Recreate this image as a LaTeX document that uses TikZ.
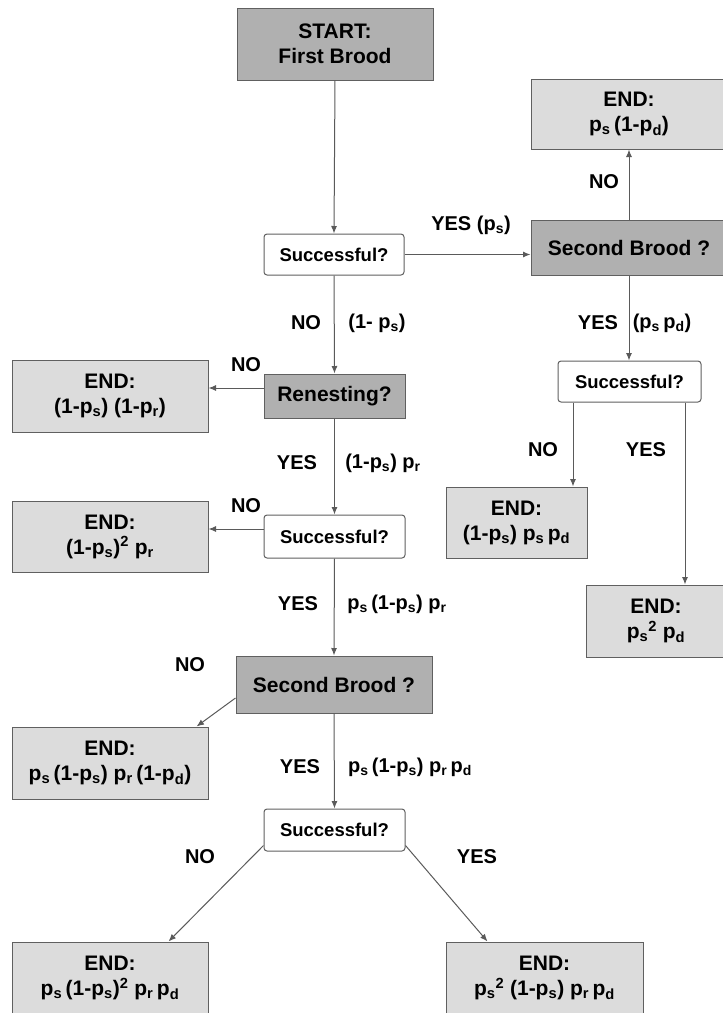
\documentclass[tikz,border=0pt]{standalone}
\usepackage{fontspec}
\setmainfont{Liberation Sans}
\usetikzlibrary{arrows.meta}
\definecolor{darkfill}{HTML}{B0B0B0}
\definecolor{lightfill}{HTML}{DCDCDC}
\definecolor{edgecol}{HTML}{606060}
\definecolor{linecol}{HTML}{5A5A5A}
\newcommand{\pss}{p\textsubscript{s}}
\newcommand{\prr}{p\textsubscript{r}}
\newcommand{\pdd}{p\textsubscript{d}}
\newcommand{\bigf}{\fontsize{21}{25}\selectfont\bfseries}
\newcommand{\qf}{\fontsize{18.5}{22}\selectfont\bfseries}
\newcommand{\lf}{\fontsize{20}{24}\selectfont\bfseries}
\begin{document}
\begin{tikzpicture}[x=1pt,y=-1pt,
  basebox/.style={rectangle, draw=edgecol, line width=1pt, inner sep=0pt, align=center},
  darkbox/.style={basebox, fill=darkfill, font=\bigf},
  endbox/.style={basebox, fill=lightfill, font=\bigf},
  query/.style={basebox, fill=white, rounded corners=3pt, font=\qf},
  lbl/.style={inner sep=0pt, font=\lf},
  arr/.style={draw=linecol, line width=1pt, -{Latex[length=7.5pt,width=6pt]}}
]
\useasboundingbox (0,0) rectangle (723,1013);

% boxes
\node[darkbox, minimum width=196pt, minimum height=72pt] (start) at (335,44) {START:\\First Brood};
\node[query, minimum width=140pt, minimum height=41pt] (s1) at (334,254.5) {Successful?};
\node[darkbox, minimum width=196pt, minimum height=55pt] (sb1) at (629,247.5) {Second Brood ?};
\node[endbox, minimum width=196pt, minimum height=70pt] (e1) at (629,114) {END:\\\pss\,(1-\pdd)};
\node[darkbox, minimum width=141pt, minimum height=44pt] (ren) at (334.5,396) {Renesting?};
\node[endbox, minimum width=196pt, minimum height=72pt] (e2) at (110,396) {END:\\(1-\pss) (1-\prr)};
\node[query, minimum width=141pt, minimum height=43pt] (s2) at (334.5,536.5) {Successful?};
\node[endbox, minimum width=196pt, minimum height=71pt] (e3) at (110,536.5) {END:\\(1-\pss)\textsuperscript{2} \prr};
\node[query, minimum width=143pt, minimum height=41pt] (s3) at (629.5,381.5) {Successful?};
\node[endbox, minimum width=141pt, minimum height=71pt] (e4) at (516.5,522.5) {END:\\(1-\pss) \pss\,\pdd};
\node[endbox, minimum width=140pt, minimum height=72pt] (e5) at (656,621) {END:\\\pss\textsuperscript{2} \pdd};
\node[darkbox, minimum width=196pt, minimum height=57pt] (sb2) at (334,684.5) {Second Brood ?};
\node[endbox, minimum width=196pt, minimum height=72pt] (e6) at (110,763) {END:\\\pss\,(1-\pss) \prr\,(1-\pdd)};
\node[query, minimum width=141pt, minimum height=42pt] (s4) at (334.5,830) {Successful?};
\node[endbox, minimum width=196pt, minimum height=72pt] (e7) at (110,978) {END:\\\pss\,(1-\pss)\textsuperscript{2} \prr\,\pdd};
\node[endbox, minimum width=197pt, minimum height=72pt] (e8) at (544.5,978) {END:\\\pss\textsuperscript{2} (1-\pss) \prr\,\pdd};

% connectors
\draw[arr] (start.south) -- (s1.north);
\draw[arr] (s1.east) -- (s1.east -| sb1.west);
\draw[arr] (sb1.north) -- (e1.south);
\draw[arr] (sb1.south) -- (sb1.south |- s3.north);
\draw[arr] (s1.south) -- (ren.north);
\draw[arr] ([yshift=8pt]ren.west) -- ([yshift=8pt]ren.west -| e2.east);
\draw[arr] (ren.south) -- (s2.north);
\draw[arr] ([yshift=7.5pt]s2.west) -- ([yshift=7.5pt]s2.west -| e3.east);
\draw[arr] (s2.south) -- (sb2.north);
\draw[arr] ([yshift=-13.5pt]sb2.west) -- ([xshift=-12pt]e6.north east);
\draw[arr] (sb2.south) -- (s4.north);
\draw[arr] ([xshift=-56.5pt]s3.south) -- ([xshift=-56.5pt]s3.south |- e4.north);
\draw[arr] ([xshift=55.5pt]s3.south) -- ([xshift=55.5pt]s3.south |- e5.north);
\draw[arr] ([yshift=6pt]s4.south west) -- ([xshift=-40pt]e7.north east);
\draw[arr] ([yshift=6pt]s4.south east) -- ([xshift=42pt]e8.north west);

% labels
\node[lbl] (l1) at (471,225) {YES (\pss)};
\node[lbl] (l2) at (604,182) {NO};
\node[lbl] (l3) at (306,323) {NO};
\node[lbl] (l4) at (377,323) {(1- \pss)};
\node[lbl] (l5) at (246,365) {NO};
\node[lbl] (l6) at (297,463) {YES};
\node[lbl] (l7) at (383,463) {(1-\pss) \prr};
\node[lbl] (l8) at (246,506) {NO};
\node[lbl] (l9) at (298,604) {YES};
\node[lbl] (l10) at (397,604) {\pss\,(1-\pss) \prr};
\node[lbl] (l11) at (598,323) {YES};
\node[lbl] (l12) at (662,323) {(\pss\,\pdd)};
\node[lbl] (l13) at (543,450) {NO};
\node[lbl] (l14) at (646,450) {YES};
\node[lbl] (l15) at (190,665) {NO};
\node[lbl] (l16) at (300,767) {YES};
\node[lbl] (l17) at (410,767) {\pss\,(1-\pss) \prr\,\pdd};
\node[lbl] (l18) at (200,857) {NO};
\node[lbl] (l19) at (477,857) {YES};
\end{tikzpicture}
\end{document}
